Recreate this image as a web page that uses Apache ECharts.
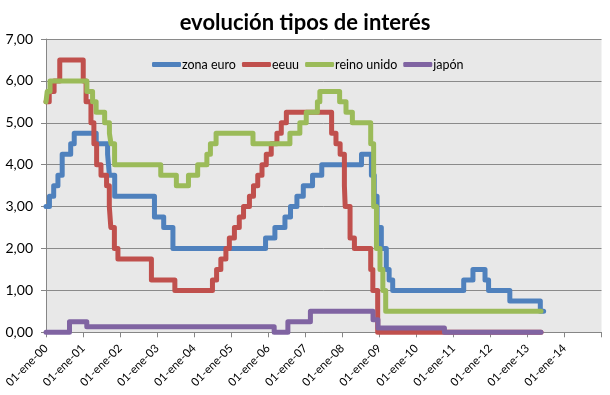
<!DOCTYPE html>
<html>
<head>
<meta charset="utf-8">
<script src="https://cdn.jsdelivr.net/npm/echarts@6/dist/echarts.min.js"></script>
<style>
html,body{margin:0;padding:0;background:#fff;}
#c{width:610px;height:395px;}
</style>
</head>
<body>
<div id="c"></div>
<script>
// ---- data (rate changes: value applies from that date) ----
const seriesNames = ['zona euro', 'eeuu', 'reino unido', 'japón'];

const euroDates = ['2000-01-01','2000-02-04','2000-03-17','2000-04-28','2000-06-09','2000-09-01','2000-10-06','2001-05-11','2001-08-31','2001-09-18','2001-11-09','2002-12-06','2003-03-07','2003-06-06','2005-12-06','2006-03-08','2006-06-15','2006-08-09','2006-10-11','2006-12-13','2007-03-14','2007-06-13','2008-07-09','2008-10-15','2008-11-12','2008-12-10','2009-01-21','2009-03-11','2009-04-08','2009-05-13','2011-04-13','2011-07-13','2011-11-09','2011-12-14','2012-07-11','2013-05-08','2013-06-10'];
const euroRates = [3.00,3.25,3.50,3.75,4.25,4.50,4.75,4.50,4.25,3.75,3.25,2.75,2.50,2.00,2.25,2.50,2.75,3.00,3.25,3.50,3.75,4.00,4.25,3.75,3.25,2.50,2.00,1.50,1.25,1.00,1.25,1.50,1.25,1.00,0.75,0.50,0.50];

const usDates = ['2000-01-01','2000-02-02','2000-03-21','2000-05-16','2001-01-03','2001-01-31','2001-03-20','2001-04-18','2001-05-15','2001-06-27','2001-08-21','2001-09-17','2001-10-02','2001-11-06','2001-12-11','2002-11-06','2003-06-25','2004-06-30','2004-08-10','2004-09-21','2004-11-10','2004-12-14','2005-02-02','2005-03-22','2005-05-03','2005-06-30','2005-08-09','2005-09-20','2005-11-01','2005-12-13','2006-01-31','2006-03-28','2006-05-10','2006-06-29','2007-09-18','2007-10-31','2007-12-11','2008-01-22','2008-01-30','2008-03-18','2008-04-30','2008-10-08','2008-10-29','2008-12-16','2013-05-15'];
const usRates = [5.50,5.75,6.00,6.50,6.00,5.50,5.00,4.50,4.00,3.75,3.50,3.00,2.50,2.00,1.75,1.25,1.00,1.25,1.50,1.75,2.00,2.25,2.50,2.75,3.00,3.25,3.50,3.75,4.00,4.25,4.50,4.75,5.00,5.25,4.75,4.50,4.25,3.50,3.00,2.25,2.00,1.50,1.00,0.00,0.00];

const ukDates = ['2000-01-01','2000-01-13','2000-02-10','2001-02-08','2001-04-05','2001-05-10','2001-08-02','2001-09-18','2001-10-04','2001-11-08','2003-02-06','2003-07-10','2003-11-06','2004-02-05','2004-05-06','2004-06-10','2004-08-05','2005-08-04','2006-08-03','2006-11-09','2007-01-11','2007-05-01','2007-05-25','2007-12-06','2008-02-07','2008-04-10','2008-10-08','2008-11-06','2008-12-04','2009-01-08','2009-02-05','2009-03-05','2013-05-15'];
const ukRates = [5.50,5.75,6.00,5.75,5.50,5.25,5.00,4.75,4.50,4.00,3.75,3.50,3.75,4.00,4.25,4.50,4.75,4.50,4.75,5.00,5.25,5.50,5.75,5.50,5.25,5.00,4.50,3.00,2.00,1.50,1.00,0.50,0.50];

const jpDates = ['2000-01-01','2000-08-20','2001-02-07','2006-03-01','2006-07-14','2007-02-21','2008-10-31','2008-12-19','2010-10-05','2013-05-15'];
const jpRates = [0.00,0.25,0.13,0.00,0.25,0.50,0.30,0.10,0.00,0.00];

const yTicks = [0,1,2,3,4,5,6,7];
const xYears = [2000,2001,2002,2003,2004,2005,2006,2007,2008,2009,2010,2011,2012,2013,2014];

// ---- helpers ----
function toYear(s){
  const d = Date.UTC(+s.slice(0,4), +s.slice(5,7)-1, +s.slice(8,10));
  const y = +s.slice(0,4);
  const a = Date.UTC(y,0,1), b = Date.UTC(y+1,0,1);
  return y + (d - a)/(b - a);
}
function pairs(dates, vals){ return dates.map((d,i)=>[toYear(d), vals[i]]); }

const colors = ['#4F81BD','#C0504D','#9BBB59','#8064A2'];
const datasets = [pairs(euroDates,euroRates), pairs(usDates,usRates), pairs(ukDates,ukRates), pairs(jpDates,jpRates)];

const FONT = 'Lato';
const chart = echarts.init(document.getElementById('c'), null, {renderer:'canvas'});
chart.setOption({
  animation:false,
  backgroundColor:'#ffffff',
  color: colors,
  title:{
    text:'evolución tipos de interés',
    left:'center', top:7,
    textStyle:{fontFamily:FONT, fontWeight:'bold', fontSize:22, color:'#000'}
  },
  legend:{
    data: seriesNames,
    left:152, top:58, padding:0,
    itemWidth:29, itemHeight:5, itemGap:6,
    icon:'roundRect',
    textStyle:{fontFamily:FONT, fontSize:12.5, color:'#000', padding:[0,0,0,-4]}
  },
  grid:{left:46, right:8.5, top:39, bottom:62.7, show:true, backgroundColor:'#e8e8e8', borderWidth:0},
  xAxis:{
    type:'value', min:2000, max:2015, interval:1,
    axisLine:{show:true, lineStyle:{color:'#868686', width:1}},
    axisTick:{show:true, length:5, lineStyle:{color:'#868686'}},
    splitLine:{show:false},
    axisLabel:{
      rotate:45, margin:14, fontFamily:FONT, fontSize:11.5, color:'#000',
      formatter: v => (xYears.indexOf(Math.round(v))>=0 ? '01-ene-' + String(Math.round(v)%100).padStart(2,'0') : '')
    }
  },
  yAxis:{
    type:'value', min:0, max:7, interval:1,
    axisLine:{show:true, lineStyle:{color:'#868686', width:1}},
    axisTick:{show:true, length:5, lineStyle:{color:'#868686'}},
    splitLine:{show:true, lineStyle:{color:'#8a8a8a', width:1}},
    axisLabel:{
      margin:13, fontFamily:FONT, fontSize:14, color:'#000',
      formatter: v => (yTicks.indexOf(v)>=0 ? v.toFixed(2).replace('.', ',') : '')
    }
  },
  series: seriesNames.map((n,i)=>({
    name:n, type:'line', step:'end', data:datasets[i],
    showSymbol:false, symbol:'none', clip:false,
    lineStyle:{width:5, color:colors[i], cap:'round', join:'round'},
    itemStyle:{color:colors[i]},
    emphasis:{disabled:true}
  }))
});
</script>
</body>
</html>
